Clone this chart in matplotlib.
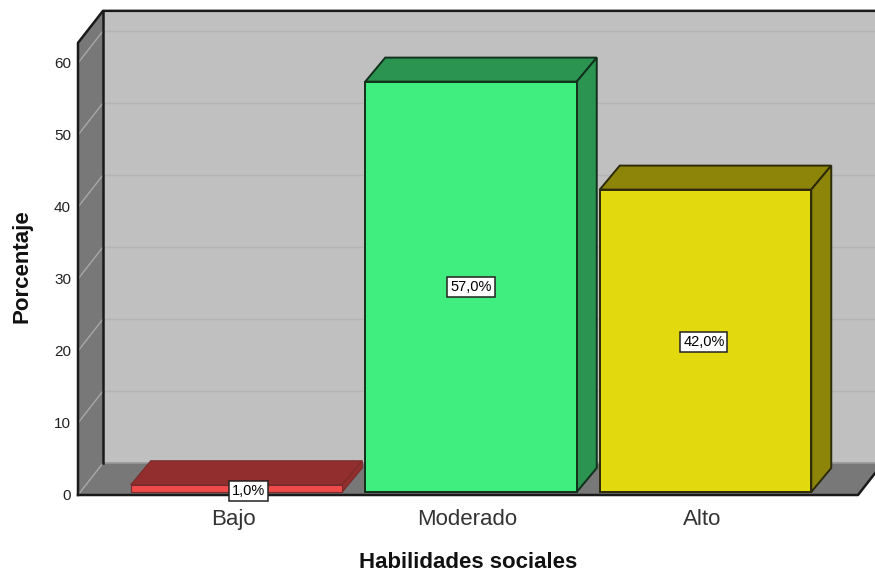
import matplotlib
matplotlib.use('Agg')
import matplotlib.pyplot as plt
from matplotlib.patches import Polygon

plt.rcParams['font.family'] = ['Liberation Sans', 'DejaVu Sans']

categories = ['Bajo', 'Moderado', 'Alto']
values = [1.0, 57.0, 42.0]
yticks = [0, 10, 20, 30, 40, 50, 60]

front_colors = ['#f04b4b', '#40ee80', '#e3d90f']
dark_colors = ['#922e2e', '#2a9450', '#8c850a']
edge_colors = ['#7a2a2a', '#12301c', '#2c2a08']

W, H = 875, 576
LEFT, RIGHT, BASE, Y60 = 78, 858, 495, 63
X0 = 233        # pixel of first category
STEP = 234.5    # pixels between categories
BAR_W = 0.451

fig = plt.figure(figsize=(W / 100, H / 100), dpi=100)
ax = fig.add_axes([LEFT / W, 1 - BASE / H, (RIGHT - LEFT) / W, (BASE - Y60) / H])
ax.set_xlim((LEFT - X0) / STEP, (RIGHT - X0) / STEP)
ax.set_ylim(0, 60)

px = 1 / STEP
py = 60 / (BASE - Y60)


def shift(x, y, dx=0, dy=0):
    # move a data point by a number of pixels, for the fake 3d depth
    return (x + dx * px, y + dy * py)


def poly(points, color, edge='none', lw=1.0, z=1):
    ax.add_patch(Polygon(points, closed=True, facecolor=color, edgecolor=edge,
                         linewidth=lw, zorder=z, clip_on=False, joinstyle='miter'))


xmin, xmax = ax.get_xlim()
ytop = 62.8
WALL_X, WALL_Y = 25, 32

# back wall, runs off the right side of the picture
poly([shift(xmin, 0, WALL_X, WALL_Y), shift(xmax, 0, WALL_X, WALL_Y),
      shift(xmax, ytop, WALL_X, WALL_Y), shift(xmin, ytop, WALL_X, WALL_Y)], '#c0c0c0', z=1)
# left wall
poly([(xmin, 0), shift(xmin, 0, WALL_X, WALL_Y), shift(xmin, ytop, WALL_X, WALL_Y), (xmin, ytop)],
     '#787878', z=1)
# floor
poly([(xmin, 0), (xmax, 0), shift(xmax, 0, WALL_X, WALL_Y), shift(xmin, 0, WALL_X, WALL_Y)],
     '#787878', z=1)

for t in yticks[1:]:
    a = shift(xmin, t, WALL_X, WALL_Y)
    b = shift(xmax, t, WALL_X, WALL_Y)
    ax.plot([a[0], b[0]], [a[1], b[1]], color='#b4b4b4', lw=1.0, zorder=2, clip_on=False)
    ax.plot([xmin, a[0]], [t, a[1]], color='#a8a8a8', lw=1.0, zorder=2, clip_on=False)

# floor diagonal and frame lines
corner = shift(xmin, 0, WALL_X, WALL_Y)
top_corner = shift(xmin, ytop, WALL_X, WALL_Y)
far_top = shift(xmax, ytop, WALL_X, WALL_Y)
far_floor = shift(xmax, 0, WALL_X, WALL_Y)
ax.plot([xmin, corner[0]], [0, corner[1]], color='#a8a8a8', lw=1, zorder=2, clip_on=False)
ax.plot([corner[0], far_floor[0]], [corner[1], far_floor[1]], color='#989898', lw=1.2, zorder=2,
        clip_on=False)
frame = dict(color='#1a1a1a', lw=1.8, zorder=3, clip_on=False, solid_capstyle='projecting')
ax.plot([xmin, xmin, top_corner[0], far_top[0]], [0, ytop, top_corner[1], far_top[1]], **frame)
ax.plot([top_corner[0], corner[0]], [top_corner[1], corner[1]], **frame)
ax.plot([xmin, xmax, far_floor[0]], [0, 0, far_floor[1]], **frame)

# bars
for i, v in enumerate(values):
    lw = 1.4 if i > 0 else 0.8
    x1, x2 = i - BAR_W, i + BAR_W
    fl = shift(x1, 0, 3.5, 3)
    fr = shift(x2, 0, 3.5, 3)
    tl = shift(x1, v, 3.5, 3)
    tr = shift(x2, v, 3.5, 3)
    d = (20, 24)
    poly([tl, tr, shift(*tr, *d), shift(*tl, *d)], dark_colors[i], edge_colors[i], lw, 4)
    poly([fr, shift(*fr, *d), shift(*tr, *d), tr], dark_colors[i], edge_colors[i], lw, 4)
    poly([fl, fr, tr, tl], front_colors[i], edge_colors[i], lw, 5)

# value labels
label_pos = [(0.065, 0.55), (1.015, 28.9), (2.008, 21.25)]
for (x, y), v in zip(label_pos, values):
    ax.text(x, y, f'{v:.1f}%'.replace('.', ','), ha='center', va='center', fontsize=10.5,
            color='black', zorder=7, clip_on=False,
            bbox=dict(boxstyle='square,pad=0.2', facecolor='white', edgecolor='#222222', linewidth=1.1))

ax.set_xticks(range(len(categories)))
ax.set_xticklabels(categories, fontsize=16, color='#333333')
ax.set_yticks(yticks)
ax.set_yticklabels([str(t) for t in yticks], fontsize=11, color='#222222')
ax.tick_params(axis='both', length=0)
ax.tick_params(axis='x', pad=10)
ax.tick_params(axis='y', pad=5)
for s in ax.spines.values():
    s.set_visible(False)
ax.patch.set_visible(False)

fig.text(468 / W, 1 - 562 / H, 'Habilidades sociales', ha='center', va='center',
         fontsize=16, fontweight='bold', color='#111111')
fig.text(22 / W, 1 - 266 / H, 'Porcentaje', ha='center', va='center', rotation=90,
         fontsize=16, fontweight='bold', color='#111111')

fig.savefig('out.png', dpi=100)
